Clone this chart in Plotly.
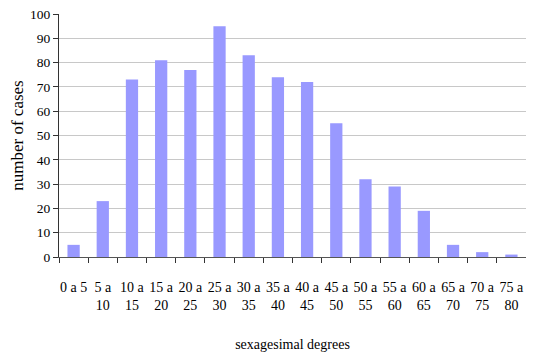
import plotly.graph_objects as go

categories = ["0 a 5", "5 a<br>10", "10 a<br>15", "15 a<br>20", "20 a<br>25", "25 a<br>30",
              "30 a<br>35", "35 a<br>40", "40 a<br>45", "45 a<br>50", "50 a<br>55", "55 a<br>60",
              "60 a<br>65", "65 a<br>70", "70 a<br>75", "75 a<br>80"]
cases = [5, 23, 73, 81, 77, 95, 83, 74, 72, 55, 32, 29, 19, 5, 2, 1]
y_ticks = list(range(0, 101, 10))

font_family = "Liberation Serif"

fig = go.Figure(go.Bar(
    x=categories, y=cases,
    marker=dict(color="#9999FF", line=dict(width=0)),
    width=0.42,
))

# the page body has an 8px default margin, so the figure is offset/clipped by 8px
fig.update_layout(
    width=526, height=346,
    margin=dict(l=51, r=8, t=6, b=97),
    plot_bgcolor="white", paper_bgcolor="white",
    showlegend=False,
    font=dict(family=font_family, color="black", size=13),
    xaxis=dict(
        type="category",
        automargin=False,
        range=[-0.5, 15.5],
        tickson="boundaries",
        tickangle=0,
        ticks="outside", ticklen=5, tickcolor="#333333",
        ticklabelstandoff=17,
        showline=True, linecolor="#555555", linewidth=1,
        showgrid=False,
        tickfont=dict(size=14, family=font_family, color="black"),
        title=dict(text="sexagesimal degrees", font=dict(size=14, family=font_family), standoff=27),
    ),
    yaxis=dict(
        automargin=False,
        range=[0, 100],
        tickvals=y_ticks,
        ticklabeloverflow="allow",
        ticks="outside", ticklen=5, tickcolor="#333333",
        showline=True, linecolor="#333333", linewidth=1,
        showgrid=True, gridcolor="#c8c8c8", gridwidth=1,
        zeroline=False,
        tickfont=dict(size=13.5, family=font_family, color="black"),
        title=dict(text="number of cases", font=dict(size=17, family=font_family), standoff=10),
    ),
)

fig.write_html("out.html")
